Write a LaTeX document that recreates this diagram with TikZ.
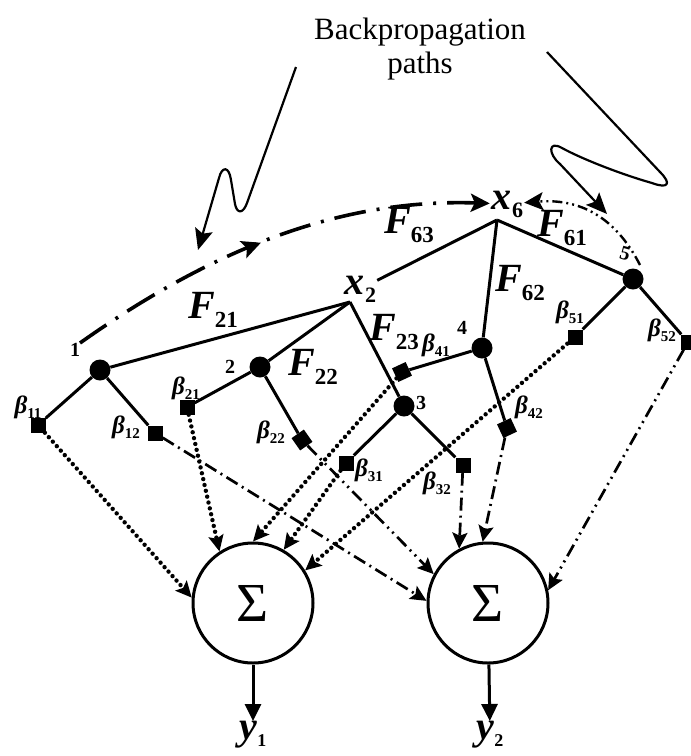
\documentclass[tikz,border=0pt]{standalone}
\usepackage{fontspec}
\setmainfont{Liberation Serif}
\usetikzlibrary{arrows.meta,decorations.markings}
\newcommand{\Fs}[1]{\textbf{\textit{F}}\raisebox{-9pt}{\fontsize{23}{23}\selectfont\bfseries #1}}
\newcommand{\Xs}[1]{\textbf{\textit{x}}\kern1pt\raisebox{-8pt}{\fontsize{22}{22}\selectfont\bfseries #1}}
\newcommand{\Ys}[1]{\textbf{\textit{y}}\raisebox{-7pt}{\fontsize{18}{18}\selectfont\bfseries #1}}
\newcommand{\Bs}[1]{\textbf{\textit{β}}\raisebox{-5pt}{\fontsize{15}{15}\selectfont\bfseries #1}}
\begin{document}
\begin{tikzpicture}[x=1pt,y=-1pt,
  tree/.style={line width=3pt},
  dotn/.style={circle,fill=black,minimum size=21pt,inner sep=0pt},
  sq/.style={rectangle,fill=black,minimum size=15pt,inner sep=0pt},
  sumc/.style={circle,draw,line width=3pt,minimum size=120pt,inner sep=0pt,font=\fontsize{55}{55}\selectfont},
  tip/.style={-{Stealth[length=16pt,width=15pt,inset=3pt]}},
  dotline/.style={tip,line width=4.4pt,dash pattern=on 0pt off 6pt,line cap=round},
  dashdot/.style={tip,line width=2.7pt,dash pattern=on 13pt off 5pt on 2pt off 5pt},
  dashdotdot/.style={tip,line width=2.7pt,dash pattern=on 13pt off 5pt on 2pt off 5pt on 2pt off 5pt},
  bpath/.style={line width=3.6pt,dash pattern=on 32pt off 11pt on 3pt off 11pt,
     -{Stealth[length=19pt,width=18pt,inset=4pt]}},
  bpath2/.style={line width=2.4pt,dash pattern=on 10pt off 4pt on 2pt off 4pt on 2pt off 4pt,
     -{Stealth[length=19pt,width=18pt,inset=4pt]}},
  wavy/.style={line width=2.2pt,line join=round,-{Stealth[length=21pt,width=18pt,inset=4pt]}},
  flab/.style={font=\fontsize{40}{40}\selectfont,inner sep=1pt},
  blab/.style={font=\fontsize{25}{25}\selectfont,inner sep=0pt},
  nlab/.style={font=\fontsize{20}{20}\selectfont\bfseries,inner sep=0pt},
  ylab/.style={font=\fontsize{40}{40}\selectfont,inner sep=0pt}
]
\useasboundingbox (0,0) rectangle (691,756);

% title
\node[font=\fontsize{31}{34}\selectfont,align=center] (bp) at (420,49) {Backpropagation\\paths};

% junctions and labels
\coordinate (j2) at (350,302);
\coordinate (j6) at (497,220);
\node[flab] (x2) at (360,289) {\Xs{2}};
\node[flab] (x6) at (507,204) {\Xs{6}};

% hidden nodes
\node[dotn] (n1) at (100,370) {};
\node[dotn] (n2) at (260,367) {};
\node[dotn] (n3) at (404,406) {};
\node[dotn] (n4) at (482,348) {};
\node[dotn] (n5) at (633,279) {};

% weight squares
\node[sq] (b11) at (38,425) {};
\node[sq] (b12) at (155,433) {};
\node[sq] (b21) at (187,407) {};
\node[sq,rotate=35] (b22) at (302,440) {};
\node[sq] (b31) at (346,463) {};
\node[sq] (b32) at (463,465) {};
\node[sq,rotate=25] (b41) at (402,372) {};
\node[sq,rotate=25] (b42) at (507,428) {};
\node[sq] (b51) at (575,337) {};
\node[sq] (b52) at (688,342) {};

% sum nodes
\node[sumc] (c1) at (253,603) {Σ};
\node[sumc] (c2) at (488,603) {Σ};
\node[ylab,anchor=north] (y1) at (253,721) {\Ys{1}};
\node[ylab,anchor=north] (y2) at (490,721) {\Ys{2}};

% tree lines
\draw[tree] (j6) -- (x2);
\draw[tree] (j6) -- (n4);
\draw[tree] (j6) -- (n5);
\draw[tree] (j2) -- (n1);
\draw[tree] (j2) -- (n2);
\draw[tree] (j2) -- (n3);
\draw[tree] (n1) -- (b11);
\draw[tree] (n1) -- (b12);
\draw[tree] (n2) -- (b21);
\draw[tree] (n2) -- (b22);
\draw[tree] (n3) -- (b31);
\draw[tree] (n3) -- (b32);
\draw[tree] (n4) -- (b41);
\draw[tree] (n4) -- (b42);
\draw[tree] (n5) -- (b51);
\draw[tree] (n5) -- (b52);

% F labels
\node[flab] (F21) at (213,310) {\Fs{21}};
\node[flab] (F22) at (313,367) {\Fs{22}};
\node[flab] (F23) at (394,332) {\Fs{23}};
\node[flab] (F63) at (409,225) {\Fs{63}};
\node[flab] (F62) at (520,283) {\Fs{62}};
\node[flab] (F61) at (562,228) {\Fs{61}};

% node numbers
\node[nlab] (l1) at (75,350) {1};
\node[nlab] (l2) at (230,367) {2};
\node[nlab] (l3) at (421,403) {3};
\node[nlab] (l4) at (462,328) {4};
\node[nlab,rotate=-15] (l5) at (625,254) {5};

% beta labels
\node[blab] at (28,407) {\Bs{11}};
\node[blab] at (126,427) {\Bs{12}};
\node[blab] at (186,388) {\Bs{21}};
\node[blab] at (271,432) {\Bs{22}};
\node[blab] at (369,470) {\Bs{31}};
\node[blab] at (437,483) {\Bs{32}};
\node[blab] at (436,345) {\Bs{41}};
\node[blab] at (529,407) {\Bs{42}};
\node[blab] at (570,312) {\Bs{51}};
\node[blab] at (662,330) {\Bs{52}};

% inputs to first sum
\draw[dotline] (b11) -- (c1.175);
\draw[dotline] (b21) -- (c1.123);
\draw[dotline] (b41) -- (c1.90);
\draw[dotline] (b31) -- (c1.60);
\draw[dotline] (b51) -- (c1.32);

% inputs to second sum
\draw[dashdot] (b12) -- (c2.178);
\draw[dashdotdot] (b22) -- (c2.152);
\draw[dashdot] (b32) -- (c2.118);
\draw[dashdot] (b42) -- (c2.95);
\draw[dashdotdot] (b52) -- (c2.12);

% outputs
\draw[line width=3pt,-{Triangle[length=17pt,width=16pt]}] (c1) -- (y1);
\draw[line width=3pt,-{Triangle[length=17pt,width=16pt]}] (c2) -- (y2);

% backpropagation paths
\coordinate (p1) at (80,343);
\coordinate (p5) at (640,265);
\draw[bpath,postaction={decorate},decoration={markings,
   mark=at position 0.47 with {\arrow{Stealth[length=19pt,width=18pt,inset=4pt]}}}]
   (p1) .. controls (200,258) and (330,198) .. (x6);
\draw[bpath2] (p5) .. controls (618,222) and (585,198) .. (x6);

% wavy pointer arrows
\draw[wavy] (296,67) -- (247,203) .. controls (243,214) and (237,214) .. (235,204)
   -- (231,180) .. controls (229,166) and (222,166) .. (219,178) -- (198,250);
\draw[wavy] (547,52) -- (660,172) .. controls (672,184) and (668,189) .. (652,183)
   .. controls (620,174) and (580,158) .. (562,148)
   .. controls (548,140) and (548,154) .. (560,164) -- (607,214);
\end{tikzpicture}
\end{document}
